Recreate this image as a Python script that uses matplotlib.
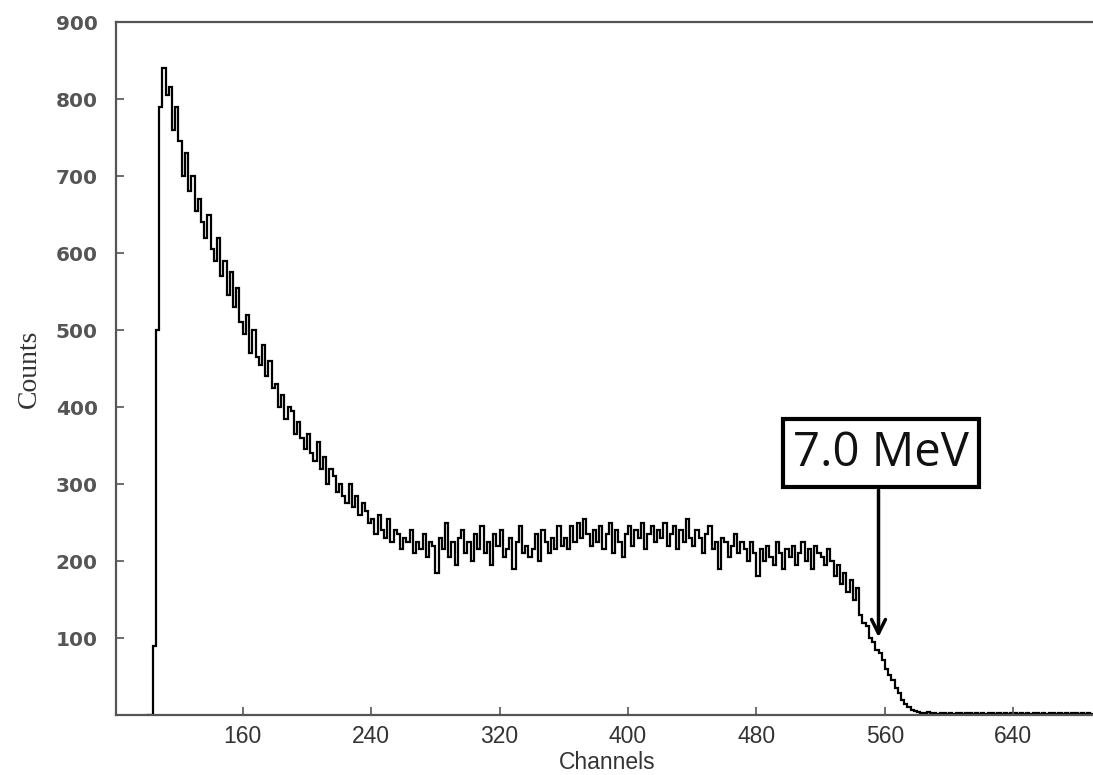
import numpy as np
from matplotlib import pyplot as plt

# spectrum, 2-channel bins starting at channel 100
bin_start = 100
bin_width = 2
counts = [
    0, 0, 90, 500, 790, 840, 805, 815, 760, 790,
    745, 700, 730, 680, 700, 655, 670, 640, 620, 650,
    605, 590, 620, 570, 590, 545, 575, 530, 555, 510,
    495, 520, 470, 500, 465, 455, 480, 440, 460, 425,
    430, 400, 415, 385, 400, 395, 365, 380, 360, 345,
    365, 340, 330, 355, 320, 335, 300, 320, 310, 290,
    300, 285, 275, 300, 270, 285, 260, 275, 265, 250,
    255, 235, 260, 240, 230, 255, 225, 240, 235, 215,
    230, 225, 240, 210, 225, 215, 235, 205, 225, 220,
    185, 230, 215, 250, 205, 225, 195, 230, 240, 210,
    225, 200, 235, 215, 245, 210, 225, 195, 235, 220,
    240, 205, 215, 230, 190, 225, 245, 210, 220, 205,
    215, 235, 200, 240, 225, 210, 230, 215, 245, 220,
    230, 215, 245, 225, 250, 230, 255, 235, 220, 240,
    225, 245, 215, 235, 250, 210, 240, 225, 205, 235,
    245, 220, 240, 230, 250, 215, 235, 245, 225, 240,
    230, 250, 220, 235, 245, 215, 240, 225, 255, 230,
    220, 240, 230, 210, 235, 245, 215, 225, 190, 230,
    225, 205, 220, 235, 210, 225, 215, 200, 225, 210,
    180, 215, 200, 220, 205, 195, 225, 210, 190, 215,
    205, 220, 195, 210, 225, 200, 215, 190, 220, 210,
    205, 195, 215, 200, 180, 195, 170, 185, 160, 175,
    150, 165, 130, 120, 115, 100, 95, 85, 80, 72,
    60, 52, 45, 35, 28, 20, 14, 10, 7, 5,
    4, 3, 2, 4, 2, 3, 1, 2, 3, 1,
    2, 1, 3, 2, 1, 2, 2, 1, 3, 1,
    2, 1, 2, 3, 1, 2, 1, 2, 1, 2,
    3, 1, 2, 1, 2, 1, 3, 2, 1, 2,
    1, 2, 2, 1, 3, 1, 2, 1, 2, 2,
    1, 2, 1, 2, 1,
]
x_ticks = [160, 240, 320, 400, 480, 560, 640]
y_ticks = [100, 200, 300, 400, 500, 600, 700, 800, 900]
label_text = "7.0 MeV"
arrow_channel = 556
arrow_count = 101

edges = bin_start + bin_width * np.arange(len(counts) + 1)

fig = plt.figure(figsize=(10.93, 7.75), dpi=100)
ax = fig.add_axes([0.106, 0.0774, 0.899, 0.8942])

ax.stairs(counts, edges, color="black", linewidth=1.6)

ax.set_xlim(81, 693)
ax.set_ylim(0, 900)
ax.set_xticks(x_ticks)
ax.set_yticks(y_ticks)
ax.set_xticklabels([str(v) for v in x_ticks], family="Liberation Sans", fontsize=16.5,
                   color="#333333")
ax.set_yticklabels([str(v) for v in y_ticks], family="DejaVu Sans", fontweight="bold",
                   fontsize=14.5, color="#555555")
ax.tick_params(axis="both", direction="in", length=6, width=1.2, color="#555555")
ax.tick_params(axis="y", pad=13)
ax.tick_params(axis="x", pad=7)
for s in ax.spines.values():
    s.set_color("#555555")
    s.set_linewidth(1.6)

ax.set_xlabel("Channels", family="Liberation Sans", fontsize=16.5, color="#333333", labelpad=2)
ax.set_ylabel("Counts", family="Liberation Serif", fontsize=20, color="#333333", labelpad=10)

ax.annotate("", xy=(arrow_channel, arrow_count), xytext=(arrow_channel, 292),
            arrowprops=dict(arrowstyle="->", color="black", lw=2.5, mutation_scale=25,
                            shrinkA=0, shrinkB=0))
ax.text(557.5, 340, label_text, family="Open Sans", fontsize=34, color="#111111",
        ha="center", va="center",
        bbox=dict(boxstyle="square,pad=0.22", facecolor="white", edgecolor="black", linewidth=3))

fig.savefig("out.png", dpi=100)
